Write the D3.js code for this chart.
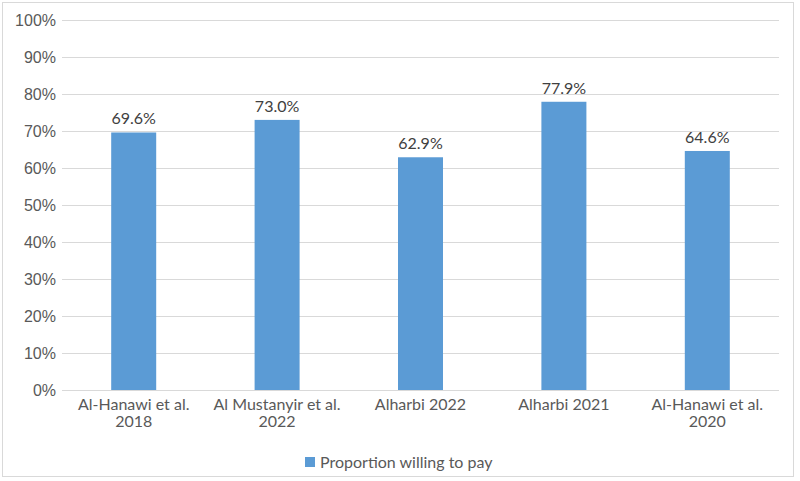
<!DOCTYPE html>
<html>
<head>
<meta charset="utf-8">
<script src="https://cdn.jsdelivr.net/npm/d3@7"></script>
<style>
  body{margin:0;background:#fff;}
  svg{display:block;font-family:Lato,"Open Sans",sans-serif;}
  .tick text{fill:#595959;font-size:16px;}
</style>
</head>
<body>
<svg id="chart" width="800" height="481"></svg>
<script>
  // data
  var studies=[["Al-Hanawi et al.","2018"],["Al Mustanyir et al.","2022"],["Alharbi 2022"],["Alharbi 2021"],["Al-Hanawi et al.","2020"]];
  var willing=[69.6,73.0,62.9,77.9,64.6];
  var yTicks=[0,10,20,30,40,50,60,70,80,90,100];
  var seriesName="Proportion willing to pay";

  const margin={top:20,bottom:91,left:62,right:21},
        width=800,
        height=481

  const svg=d3.select("#chart")

  svg.append("rect")
     .attr("x",2.5).attr("y",2.5)
     .attr("width",791).attr("height",474)
     .attr("fill","#fff").attr("stroke","#d9d9d9").attr("stroke-width",1)

  var x=d3.scaleBand()
          .domain(d3.range(studies.length))
          .range([margin.left,width-margin.right])
  var y=d3.scaleLinear()
          .domain([0,100])
          .range([height-margin.bottom,margin.top])

  // gridlines
  svg.append("g")
     .selectAll("line")
     .data(yTicks).enter()
     .append("line")
     .attr("x1",margin.left).attr("x2",width-margin.right)
     .attr("y1",d=>Math.round(y(d))+0.5).attr("y2",d=>Math.round(y(d))+0.5)
     .attr("stroke","#d9d9d9").attr("stroke-width",1)

  var yAxis=svg.append("g")
     .attr("transform","translate("+(margin.left-6)+",0)")
     .call(d3.axisLeft(y).tickValues(yTicks).tickFormat(d=>d+"%").tickSize(0).tickPadding(0))
  yAxis.select(".domain").remove()

  var bw=45
  svg.append("g")
     .selectAll("rect")
     .data(willing).enter()
     .append("rect")
     .attr("x",(d,i)=>x(i)+x.bandwidth()/2-bw/2)
     .attr("width",bw)
     .attr("y",d=>y(d))
     .attr("height",d=>y(0)-y(d))
     .attr("fill","#5b9bd5")

  svg.append("g")
     .selectAll("text")
     .data(willing).enter()
     .append("text")
     .attr("x",(d,i)=>x(i)+x.bandwidth()/2)
     .attr("y",d=>y(d)-8)
     .attr("text-anchor","middle")
     .attr("fill","#404040")
     .style("font-size","16px")
     .text(d=>d.toFixed(1)+"%")

  // category labels, up to two lines
  var cats=svg.append("g")
     .selectAll("text")
     .data(studies).enter()
     .append("text")
     .attr("x",(d,i)=>x(i)+x.bandwidth()/2)
     .attr("y",y(0)+20)
     .attr("text-anchor","middle")
     .attr("fill","#595959")
     .style("font-size","16px")
  cats.selectAll("tspan")
     .data(d=>d).enter()
     .append("tspan")
     .attr("x",function(){return this.parentNode.getAttribute("x")})
     .attr("dy",(d,i)=>i==0?0:17)
     .text(d=>d)

  var legend=svg.append("g").attr("transform","translate(305,457)")
  legend.append("rect").attr("width",10).attr("height",10).attr("fill","#5b9bd5")
  legend.append("text")
        .attr("x",15).attr("y",11)
        .attr("fill","#595959")
        .style("font-size","16px")
        .text(seriesName)
</script>
</body>
</html>
